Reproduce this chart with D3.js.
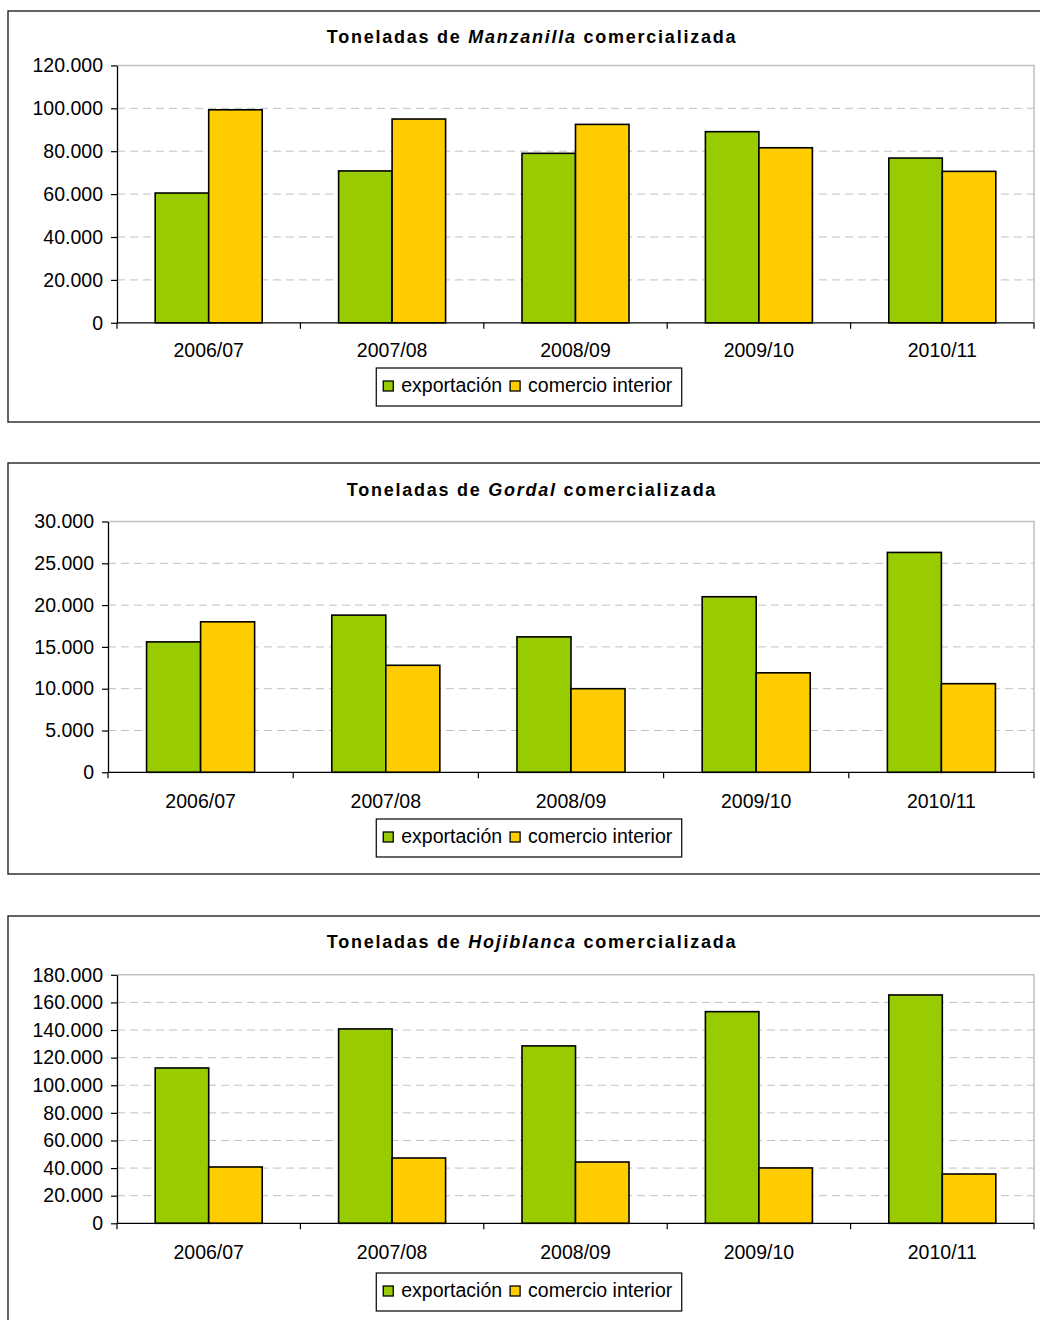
<!DOCTYPE html>
<html lang="es">
<head>
<meta charset="utf-8">
<title>Toneladas de aceituna de mesa comercializada</title>
<script src="https://cdn.jsdelivr.net/npm/d3@7"></script>
<style>
  html, body { margin: 0; padding: 0; background: #fff; }
  svg { display: block; font-family: "Liberation Sans", Arial, sans-serif; }
</style>
</head>
<body>
<script>
// Campaigns and series
const categories = ["2006/07", "2007/08", "2008/09", "2009/10", "2010/11"];
const seriesNames = ["exportación", "comercio interior"];
const seriesColors = ["#99CC00", "#FFCC00"];

// Tonnes sold per variety
const manzanillaExport   = [60500, 70800, 79000, 89100, 76800];
const manzanillaInterior = [99300, 95000, 92500, 81600, 70600];
const gordalExport       = [15600, 18800, 16200, 21000, 26300];
const gordalInterior     = [18000, 12800, 10000, 11900, 10600];
const hojiblancaExport   = [112500, 140800, 128500, 153300, 165400];
const hojiblancaInterior = [40800, 47300, 44400, 40100, 35700];

// Y-axis ticks per variety
const manzanillaTicks = [0, 20000, 40000, 60000, 80000, 100000, 120000];
const gordalTicks     = [0, 5000, 10000, 15000, 20000, 25000, 30000];
const hojiblancaTicks = [0, 20000, 40000, 60000, 80000, 100000, 120000, 140000, 160000, 180000];

const charts = [
  { variety: "Manzanilla", values: [manzanillaExport, manzanillaInterior], ticks: manzanillaTicks,
    layout: { top: 11, titleY: 26, plotTop: 54.4, plotBottom: 311.8, left: 117, labelY: 339, legendTop: 357 } },
  { variety: "Gordal", values: [gordalExport, gordalInterior], ticks: gordalTicks,
    layout: { top: 463, titleY: 27, plotTop: 58.5, plotBottom: 309.3, left: 108, labelY: 338, legendTop: 356 } },
  { variety: "Hojiblanca", values: [hojiblancaExport, hojiblancaInterior], ticks: hojiblancaTicks,
    layout: { top: 916, titleY: 26, plotTop: 58.8, plotBottom: 307.3, left: 117, labelY: 336, legendTop: 357 } }
];

const W = 1040, H = 1320;
const plotRight = 1034;
const centerX = 532;
const labelSize = 19.5;

const esLocale = d3.formatLocale({ decimal: ",", thousands: ".", grouping: [3], currency: ["", " €"] });
const fmt = esLocale.format(",d");

const svg = d3.select("body").append("svg").attr("width", W).attr("height", H);

charts.forEach(chart => {
  const L = chart.layout;
  const g = svg.append("g").attr("transform", `translate(0,${L.top})`);

  // outer frame
  g.append("rect")
    .attr("x", 8).attr("y", 0).attr("width", 1060).attr("height", 411)
    .attr("fill", "#fff").attr("stroke", "#111").attr("stroke-width", 1.3);

  // title
  const title = g.append("text")
    .attr("x", centerX).attr("y", L.titleY).attr("dy", "0.35em")
    .attr("text-anchor", "middle")
    .attr("font-size", 18).attr("font-weight", "bold")
    .attr("letter-spacing", "1.75px").attr("fill", "#000");
  title.append("tspan").text("Toneladas de ");
  title.append("tspan").attr("font-style", "italic").text(chart.variety);
  title.append("tspan").text(" comercializada");

  const maxV = d3.max(chart.ticks);
  const y = d3.scaleLinear().domain([0, maxV]).range([L.plotBottom, L.plotTop]);
  const x0 = d3.scaleBand().domain(categories).range([L.left, plotRight]).padding(0);
  const x1 = d3.scaleBand().domain(seriesNames).range([0, x0.bandwidth()])
    .paddingInner(0).paddingOuter(0.714);

  // dashed gridlines
  g.append("g").selectAll("line")
    .data(chart.ticks.filter(t => t > 0 && t < maxV))
    .join("line")
    .attr("x1", L.left).attr("x2", plotRight)
    .attr("y1", d => y(d)).attr("y2", d => y(d))
    .attr("stroke", "#c0c0c0").attr("stroke-width", 1)
    .attr("stroke-dasharray", "8,5");

  // plot-area border (top and right)
  g.append("path")
    .attr("d", `M${L.left},${y(maxV)}H${plotRight}V${y(0)}`)
    .attr("fill", "none").attr("stroke", "#c0c0c0").attr("stroke-width", 1.5);

  // bars
  const groups = g.append("g").selectAll("g")
    .data(categories)
    .join("g")
    .attr("transform", c => `translate(${x0(c)},0)`);
  groups.selectAll("rect")
    .data((c, ci) => seriesNames.map((s, si) => ({ s, si, v: chart.values[si][ci] })))
    .join("rect")
    .attr("x", d => x1(d.s))
    .attr("width", x1.bandwidth())
    .attr("y", d => y(d.v))
    .attr("height", d => y(0) - y(d.v))
    .attr("fill", d => seriesColors[d.si])
    .attr("stroke", "#000").attr("stroke-width", 1.6);

  // y axis
  const yAxis = g.append("g")
    .attr("transform", `translate(${L.left},0)`)
    .call(d3.axisLeft(y).tickValues(chart.ticks).tickFormat(fmt).tickSize(6).tickSizeOuter(0).tickPadding(8));
  yAxis.selectAll("text").attr("font-size", labelSize).attr("fill", "#000")
    .attr("font-family", "'Liberation Sans', Arial, sans-serif");
  yAxis.select(".domain").attr("stroke", "#000").attr("stroke-width", 1.3);
  yAxis.selectAll(".tick line").attr("stroke", "#000").attr("stroke-width", 1.2);

  // x axis baseline and category boundary ticks
  g.append("line")
    .attr("x1", L.left).attr("x2", plotRight)
    .attr("y1", y(0)).attr("y2", y(0))
    .attr("stroke", "#000").attr("stroke-width", 1.3);
  const bounds = categories.map(c => x0(c)).concat([plotRight]);
  g.append("g").selectAll("line")
    .data(bounds)
    .join("line")
    .attr("x1", d => d).attr("x2", d => d)
    .attr("y1", y(0)).attr("y2", y(0) + 6)
    .attr("stroke", "#000").attr("stroke-width", 1.2);
  g.append("g").selectAll("text")
    .data(categories)
    .join("text")
    .attr("x", c => x0(c) + x0.bandwidth() / 2)
    .attr("y", L.labelY).attr("dy", "0.35em")
    .attr("text-anchor", "middle")
    .attr("font-size", labelSize).attr("fill", "#000")
    .text(c => c);

  // legend
  const lg = g.append("g");
  const items = lg.selectAll("g")
    .data(seriesNames)
    .join("g");
  items.append("rect")
    .attr("width", 10).attr("height", 10)
    .attr("fill", (d, i) => seriesColors[i])
    .attr("stroke", "#000").attr("stroke-width", 1.3);
  items.append("text")
    .attr("x", 18).attr("y", 4).attr("dy", "0.35em")
    .attr("font-size", labelSize).attr("fill", "#000")
    .text(d => d);
  let cursor = 0;
  items.each(function () {
    d3.select(this).attr("transform", `translate(${cursor},0)`);
    cursor += this.getBBox().width + 8;
  });
  const itemsW = cursor - 8;
  const padL = 7, padR = 9, boxH = 38;
  const boxW = itemsW + padL + padR;
  const boxX = centerX - 3 - boxW / 2;
  lg.insert("rect", ":first-child")
    .attr("x", boxX).attr("y", L.legendTop)
    .attr("width", boxW).attr("height", boxH)
    .attr("fill", "#fff").attr("stroke", "#000").attr("stroke-width", 1.2);
  items.attr("transform", function () {
    const t = d3.select(this).attr("transform").match(/translate\(([-\d.]+)/);
    const dx = +t[1];
    return `translate(${boxX + padL + dx},${L.legendTop + boxH / 2 - 6})`;
  });
});
</script>
</body>
</html>
